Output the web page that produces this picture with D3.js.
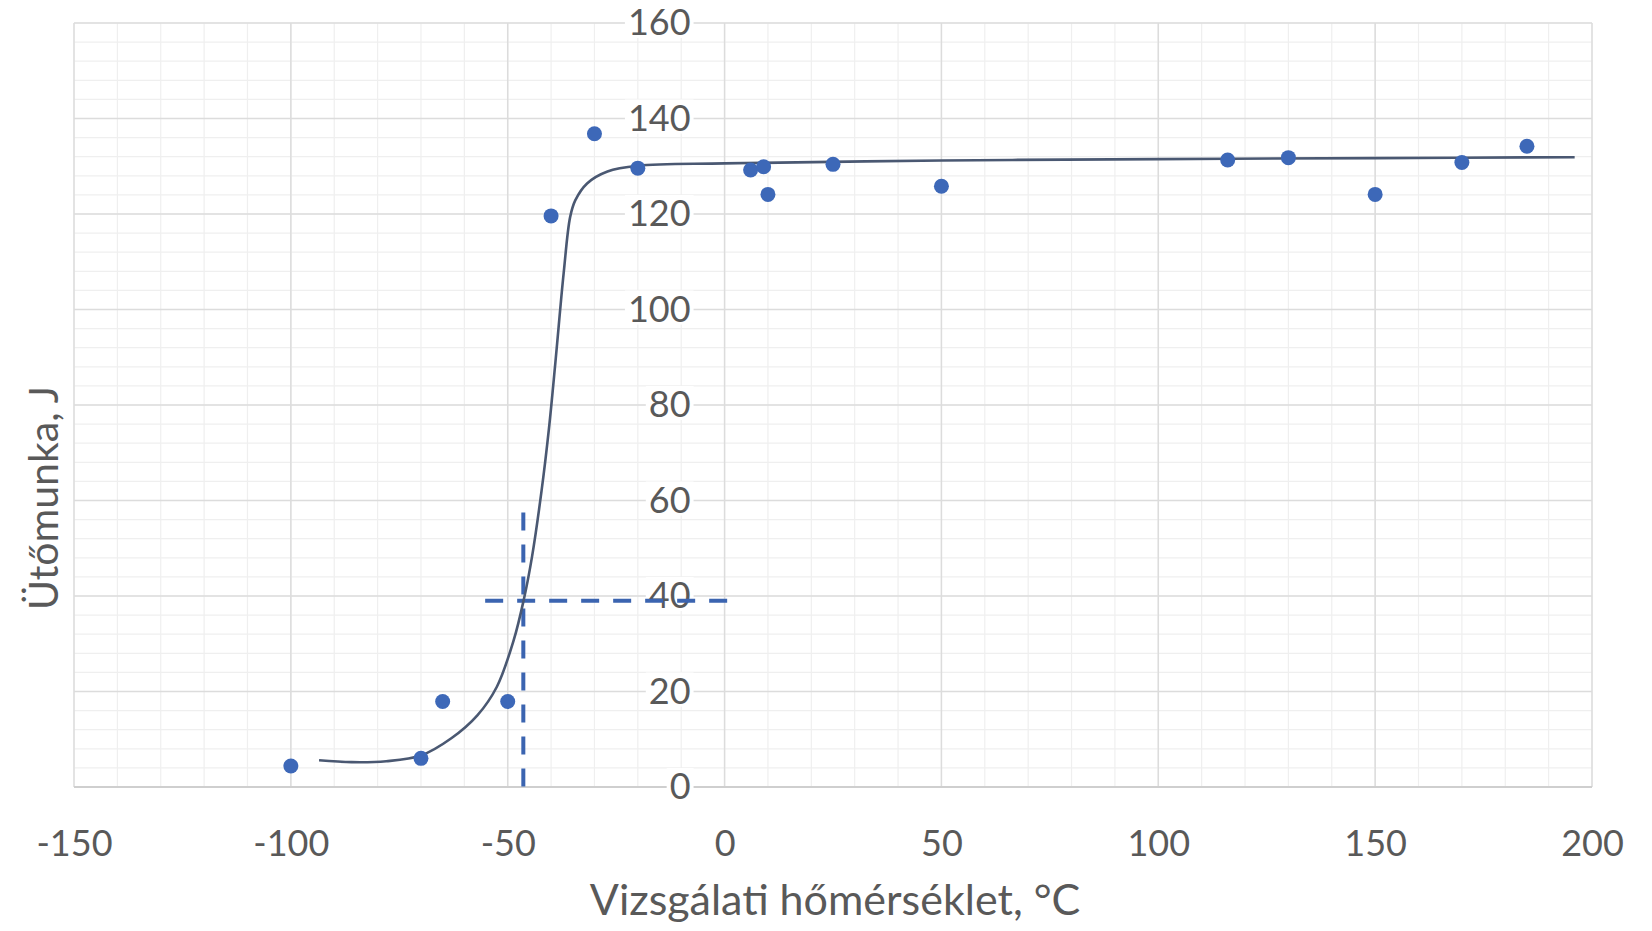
<!DOCTYPE html>
<html>
<head>
<meta charset="utf-8">
<script src="https://cdn.jsdelivr.net/npm/d3@7"></script>
<style>
  body { margin: 0; background: #fff; }
  svg { display: block; }
</style>
</head>
<body>
<svg id="chart"></svg>
<script>
const width = 1652;
const height = 931;

// mért pontok
const tempC = [-100, -70, -65, -50, -40, -30, -20, 6, 9, 10, 25, 50, 116, 130, 150, 170, 185];
const energyJ = [4.4, 6.0, 17.9, 17.9, 119.6, 136.8, 129.6, 129.2, 129.9, 124.1, 130.4, 125.8, 131.3, 131.8, 124.1, 130.8, 134.2];

// illesztett görbe (leolvasott pontok)
const curveT = [-93.5, -86, -78, -70, -63, -57, -52.5, -48.6, -46.3, -44.4, -42.2, -40.5, -39, -37.1, -35.6, -34.4, -31.7, -27, -20, 0, 50, 100, 150, 196];
const curveJ = [5.6, 5.2, 5.4, 6.6, 10.2, 15.0, 21.0, 30.8, 39.2, 48.2, 62, 75, 89, 107.6, 119.4, 122.9, 126.4, 128.9, 130.1, 130.6, 131.2, 131.5, 131.7, 131.9];

// átmeneti hőmérséklet jelölése
const transT = -46.4;
const transJ = 39;
const hDashT = [-55.2, 2];
const vDashJ = [-1.6, 57.5];

const xTicks = [-150, -100, -50, 0, 50, 100, 150, 200];
const yTicks = [0, 20, 40, 60, 80, 100, 120, 140, 160];

const svg = d3.select("#chart").attr("width", width).attr("height", height);
svg.append("rect").attr("width", width).attr("height", height).attr("fill", "#fff");

const x = d3.scaleLinear().domain([-150, 200]).range([74, 1592]);
const y = d3.scaleLinear().domain([0, 160]).range([787, 23]);

const font = "Lato, 'Open Sans', sans-serif";

// rács - kis osztás
const grid = svg.append("g");
grid.selectAll(".vminor")
  .data(d3.range(-150, 201, 10))
  .join("line")
  .attr("x1", d => x(d)).attr("x2", d => x(d))
  .attr("y1", y(0)).attr("y2", y(160))
  .attr("stroke", "#efefef").attr("stroke-width", 1.2);
grid.selectAll(".hminor")
  .data(d3.range(0, 161, 4))
  .join("line")
  .attr("x1", x(-150)).attr("x2", x(200))
  .attr("y1", d => y(d)).attr("y2", d => y(d))
  .attr("stroke", "#efefef").attr("stroke-width", 1.2);

// rács - fő osztás
grid.selectAll(".vmajor")
  .data(xTicks)
  .join("line")
  .attr("x1", d => x(d)).attr("x2", d => x(d))
  .attr("y1", y(0)).attr("y2", y(160))
  .attr("stroke", "#dcdcdc").attr("stroke-width", 1.5);
grid.selectAll(".hmajor")
  .data(yTicks)
  .join("line")
  .attr("x1", x(-150)).attr("x2", x(200))
  .attr("y1", d => y(d)).attr("y2", d => y(d))
  .attr("stroke", d => d === 0 ? "#cfcfcf" : "#dcdcdc")
  .attr("stroke-width", d => d === 0 ? 2 : 1.5);

// x tengely
const xAxis = svg.append("g")
  .attr("transform", "translate(0," + y(0) + ")")
  .call(d3.axisBottom(x).tickValues(xTicks).tickSize(0).tickPadding(43).tickFormat(d => String(d)));
xAxis.select(".domain").remove();
xAxis.selectAll("text")
  .attr("font-family", font).attr("font-size", 36).attr("fill", "#595959");

// y tengely (x = 0-nál)
const yAxis = svg.append("g")
  .attr("transform", "translate(" + x(0) + ",0)")
  .call(d3.axisLeft(y).tickValues(yTicks).tickSize(0).tickPadding(34).tickFormat(d => String(d)));
yAxis.select(".domain").remove();
yAxis.selectAll("text")
  .attr("font-family", font).attr("font-size", 36).attr("fill", "#595959");
// fehér háttér a feliratok mögé
yAxis.selectAll(".tick").each(function () {
  const t = d3.select(this).select("text");
  const b = t.node().getBBox();
  d3.select(this).insert("rect", "text")
    .attr("x", b.x - 3).attr("y", b.y + 5)
    .attr("width", b.width + 6).attr("height", b.height - 10)
    .attr("fill", "#fff");
});

// szaggatott vonalak
svg.append("line")
  .attr("x1", x(hDashT[0])).attr("x2", x(hDashT[1]))
  .attr("y1", y(transJ)).attr("y2", y(transJ))
  .attr("stroke", "#3b64b0").attr("stroke-width", 4)
  .attr("stroke-dasharray", "18,14");
svg.append("line")
  .attr("x1", x(transT)).attr("x2", x(transT))
  .attr("y1", y(vDashJ[1])).attr("y2", y(vDashJ[0]))
  .attr("stroke", "#3b64b0").attr("stroke-width", 4)
  .attr("stroke-dasharray", "18,14");

// görbe
const curveData = curveT.map((t, i) => ({ t: t, j: curveJ[i] }));
const line = d3.line()
  .x(d => x(d.t))
  .y(d => y(d.j))
  .curve(d3.curveCatmullRom.alpha(0.5));
svg.append("path")
  .datum(curveData)
  .attr("fill", "none")
  .attr("stroke", "#4a5872")
  .attr("stroke-width", 2.6)
  .attr("d", line);

// pontok
svg.append("g")
  .selectAll("circle")
  .data(tempC.map((t, i) => ({ t: t, j: energyJ[i] })))
  .join("circle")
  .attr("cx", d => x(d.t))
  .attr("cy", d => y(d.j))
  .attr("r", 7.5)
  .attr("fill", "#3d68b8");

// tengelycímek
svg.append("text")
  .attr("x", 835)
  .attr("y", 915)
  .attr("text-anchor", "middle")
  .attr("font-family", font)
  .attr("font-size", 43)
  .attr("fill", "#595959")
  .text("Vizsgálati hőmérséklet, °C");

svg.append("text")
  .attr("transform", "translate(58,498) rotate(-90)")
  .attr("text-anchor", "middle")
  .attr("font-family", font)
  .attr("font-size", 41)
  .attr("fill", "#595959")
  .text("Ütőmunka, J");
</script>
</body>
</html>
